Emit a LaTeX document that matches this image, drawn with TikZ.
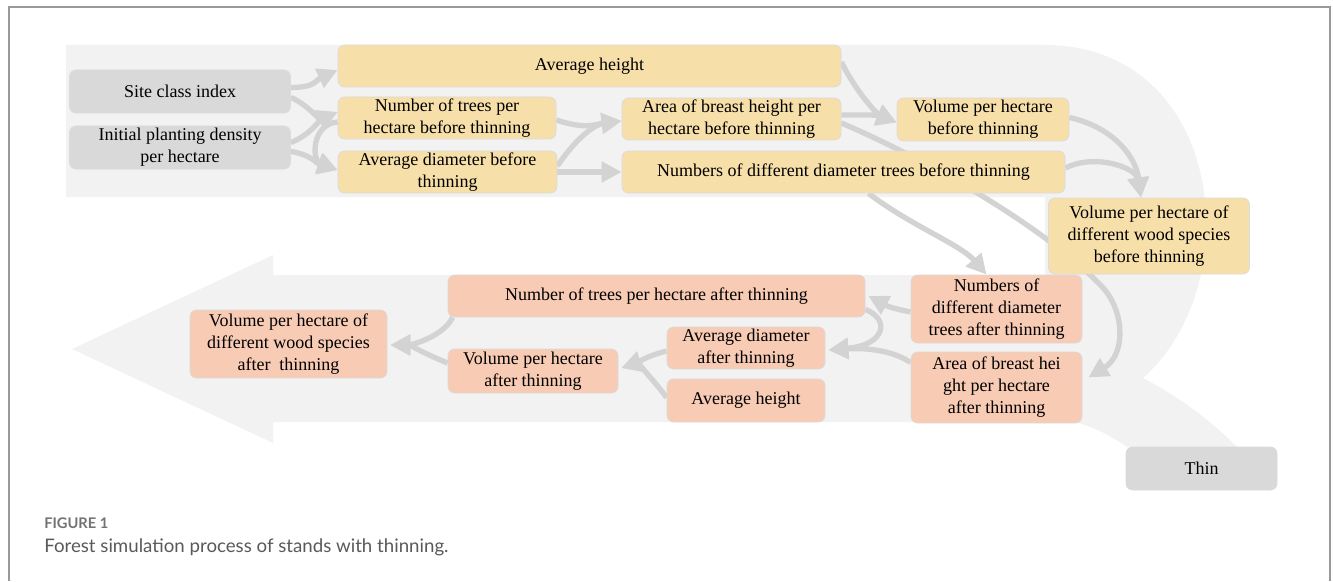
\documentclass[tikz,border=0pt]{standalone}
\usepackage{fontspec}
\setmainfont{Liberation Serif}
\newfontfamily\capfont{Lato}
\usetikzlibrary{arrows.meta,calc}
\definecolor{bandcolor}{HTML}{F2F2F2}
\definecolor{startcolor}{HTML}{D9D9D9}
\definecolor{precolor}{HTML}{F7DFA9}
\definecolor{postcolor}{HTML}{F8CBB4}
\definecolor{flowcolor}{HTML}{D3D3D3}
\colorlet{framecolor}{black!40}
\pgfdeclarelayer{bandlayer}
\pgfdeclarelayer{flowlayer}
\pgfsetlayers{bandlayer,flowlayer,main}
\tikzset{
    box/.style={rounded corners=5pt, draw=black!14, line width=0.6pt, align=center,
        inner sep=0pt, font=\fontsize{13.5}{16.5}\selectfont},
    sz/.style 2 args={minimum width=#1*0.75pt, minimum height=#2*0.75pt},
    startbox/.style={box, fill=startcolor},
    prebox/.style={box, fill=precolor},
    postbox/.style={box, fill=postcolor},
    flow/.style={draw=flowcolor, line width=4pt, -{Triangle[length=15pt,width=15pt]}},
}

\begin{document}
\begin{tikzpicture}[x=0.75pt, y=-0.75pt]
    \useasboundingbox (0,0) rectangle (1333,581);
    % --- frame ---
    \draw[framecolor, line width=1.1pt] (9,581) -- (9,7) -- (1330,7) -- (1330,581);
    % --- background band: forward, U-turn, back to the left, branch to Thin ---
    \begin{pgfonlayer}{bandlayer}
        \fill[bandcolor] (66,45) -- (1045,45)
            .. controls (1150,45) and (1210,130) .. (1206,235)
            .. controls (1203,300) and (1175,350) .. (1143,378)
            .. controls (1185,400) and (1215,425) .. (1237,447)
            -- (1127,447)
            .. controls (1110,435) and (1090,425) .. (1073,422)
            -- (273,422) -- (273,443) -- (72,349) -- (273,255) -- (273,275)
            -- (1045,275) -- (1045,197) -- (66,197) -- cycle;
    \end{pgfonlayer}
    % --- before thinning ---
    \node[startbox, sz={221}{43}] (sci) at (180,91.5) {Site class index};
    \node[startbox, sz={221}{43}] (ipd) at (180,147.5) {Initial planting density\\per hectare};
    \node[prebox, sz={503}{42}] (ahb) at (589.5,66) {Average height};
    \node[prebox, sz={218}{42}] (ntb) at (447,118) {Number of trees per\\hectare before thinning};
    \node[prebox, sz={219}{42}] (adb) at (447.5,172) {Average diameter before\\thinning};
    \node[prebox, sz={219}{42}] (abb) at (731.5,119) {Area of breast height per\\hectare before thinning};
    \node[prebox, sz={443}{42}] (ndb) at (843.5,172) {Numbers of different diameter trees before thinning};
    \node[prebox, sz={172}{43}] (vhb) at (983,119.5) {Volume per hectare\\before thinning};
    \node[prebox, sz={201}{76}] (vsb) at (1149,236) {Volume per hectare of\\different wood species\\before thinning};
    % --- after thinning ---
    \node[postbox, sz={171}{68}] (nda) at (996.5,309) {Numbers of\\different diameter\\trees after thinning};
    \node[postbox, sz={171}{71}] (aba) at (996.5,387.5) {Area of breast hei\\ght per hectare\\after thinning};
    \node[postbox, sz={417}{42}] (nta) at (656.5,296) {Number of trees per hectare after thinning};
    \node[postbox, sz={158}{42}] (ada) at (746,348) {Average diameter\\after thinning};
    \node[postbox, sz={158}{43}] (aha) at (746,400.5) {Average height};
    \node[postbox, sz={170}{44}] (vha) at (533,371) {Volume per hectare\\after thinning};
    \node[postbox, sz={197}{68}] (vsa) at (288.5,344) {Volume per hectare of\\different wood species\\after~ thinning};
    \node[startbox, sz={151}{43}] (thin) at (1201.5,468.5) {Thin};
    % --- connectors (under the boxes) ---
    \begin{pgfonlayer}{flowlayer}
        \path[flow] ($(sci.east)+(0,-4)$) .. controls +(25,0) and +(-22,10) .. ($(ahb.west)+(0,4)$);
        \path[flow] ($(sci.east)+(0,6)$) .. controls +(15,6) and +(-18,8) .. ($(ntb.west)+(0,-6)$);
        \path[flow] ($(ipd.east)+(0,-5)$) .. controls +(20,-8) and +(-18,8) .. ($(ntb.west)+(0,-6)$);
        \path[flow] ($(ipd.east)+(0,4)$) .. controls +(20,3) and +(-20,-6) .. ($(adb.west)+(0,-2)$);
        \path[flow] ($(ntb.west)+(0,4)$) .. controls +(-26,2) and +(-26,-10) .. ($(adb.west)+(0,-2)$);
        \path[flow] ($(ntb.east)+(0,2)$) .. controls +(30,10) and +(-25,3) .. ($(abb.west)+(0,2)$);
        \path[flow] ($(adb.east)+(0,-6)$) .. controls +(20,-30) and +(-25,3) .. ($(abb.west)+(0,2)$);
        \path[flow] (adb.east) -- (ndb.west);
        \path[flow] ($(ahb.east)+(0,-4)$) .. controls +(12,25) and +(-22,-10) .. ($(vhb.west)+(0,3)$);
        \path[flow] ($(abb.east)+(0,-4)$) .. controls +(25,0) and +(-22,-8) .. ($(vhb.west)+(0,3)$);
        \path[flow] ($(abb.east)+(0,4)$) .. controls +(109,47) and (1060,240) .. (1105,290)
            .. controls (1125,315) and (1125,355) .. ($(aba.east)+(6,-10)$);
        \path[flow] ($(ndb.south)+(25,0)$) .. controls +(42,32) and +(-26,-30) .. ($(nda.north)+(-10,0)$);
        \path[flow] ($(vhb.east)+(0,-2)$) .. controls +(45,10) and +(-5,-40) .. ($(vsb.north)+(-8,0)$);
        \path[flow] ($(ndb.east)+(0,-4)$) .. controls +(30,-15) and +(-5,-30) .. ($(vsb.north)+(-8,0)$);
        \path[flow] ($(nda.west)+(0,3)$) .. controls +(-25,-5) and +(15,8) .. ($(nta.east)+(3,0)$);
        \path[flow] ($(nta.south east)+(0,-8)$) .. controls +(25,10) and +(57,-5) .. ($(ada.east)+(3,2)$);
        \path[flow] ($(aba.west)+(0,-25)$) .. controls +(-21,-14) and +(32,-2) .. ($(ada.east)+(3,2)$);
        \path[flow] ($(ada.west)+(0,3)$) .. controls +(-20,5) and +(15,-5) .. ($(vha.east)+(3,-3)$);
        \path[flow] ($(aha.west)+(0,-3)$) .. controls +(-15,-20) and +(15,-5) .. ($(vha.east)+(3,-3)$);
        \path[flow] ($(nta.south west)+(5,0)$) .. controls +(-10,20) and +(20,0) .. ($(vsa.east)+(3,1)$);
        \path[flow] ($(vha.west)+(0,-8)$) .. controls +(-25,-10) and +(20,0) .. ($(vsa.east)+(3,1)$);
    \end{pgfonlayer}
    % --- caption ---
    \node[anchor=west, inner sep=0pt, text=black!55, font=\capfont\bfseries\fontsize{11}{13}\selectfont] (fig) at (44,523) {FIGURE 1};
    \node[anchor=west, inner sep=0pt, text=black!65, font=\capfont\fontsize{14}{17}\selectfont] (cap) at (44,547) {Forest simulation process of stands with thinning.};
\end{tikzpicture}
\end{document}
